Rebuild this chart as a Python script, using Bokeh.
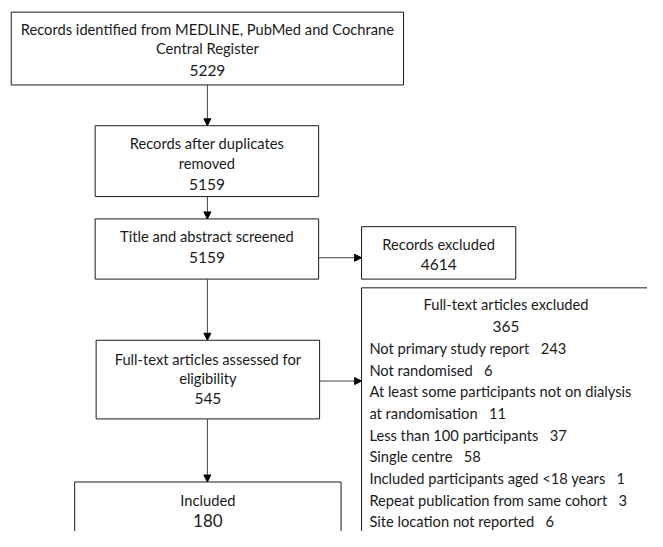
from bokeh.plotting import figure
from bokeh.models import Arrow, NormalHead, ColumnDataSource, Range1d
from bokeh.core.properties import value
from bokeh.embed import file_html
from bokeh.resources import INLINE

# ---------------- data ----------------
stage_titles = [
    ["Records identified from MEDLINE, PubMed and Cochrane", "Central Register"],
    ["Records after duplicates", "removed"],
    ["Title and abstract screened"],
    ["Full-text articles assessed for", "eligibility"],
    ["Included"],
]
stage_counts = [5229, 5159, 5159, 545, 180]

excluded_title = "Records excluded"
excluded_count = 4614

fulltext_excluded_title = "Full-text articles excluded"
fulltext_excluded_count = 365
reason_labels = [
    "Not primary study report",
    "Not randomised",
    "At least some participants not on dialysis|at randomisation",
    "Less than 100 participants",
    "Single centre",
    "Included participants aged <18 years",
    "Repeat publication from same cohort",
    "Site location not reported",
]
reason_counts = [243, 6, 11, 37, 58, 1, 3, 6]

# ---------------- layout (reference pixel coordinates) ----------------
stage_boxes = [(11, 413, 12, 87), (97, 326, 129, 202), (97, 326, 225, 287),
               (98, 327, 350, 431), (76, 349, 496, 570)]
stage_title_y = [[29, 49], [147, 167], [243], [369, 389], [515]]
stage_count_y = [72, 190, 265, 410, 536]
stage_count_size = ["15.5px", "15.5px", "15.5px", "15.5px", "17px"]

excl_box = (370, 528, 233, 287)
excl_title_y, excl_count_y = 251, 272
ft_box = (370, 666, 296, 600)
ft_title_y, ft_count_y = 313, 336
reason_x = 378
reason_y0, reason_dy = 358, 22.3

FONT = value("Lato")
TITLE_SIZE = "14.7px"
GAP = "\u00a0\u00a0\u00a0"

p = figure(width=647, height=531, output_backend="svg", toolbar_location=None,
           x_range=Range1d(0, 663), y_range=Range1d(547, 0), min_border=0)
p.axis.visible = False
p.grid.visible = False
p.outline_line_color = None
p.background_fill_color = "white"

all_boxes = stage_boxes + [excl_box, ft_box]
p.quad(left=[b[0] for b in all_boxes], right=[b[1] for b in all_boxes],
       top=[b[2] for b in all_boxes], bottom=[b[3] for b in all_boxes],
       fill_color="white", line_color="#1a1a1a", line_width=1)

# centered texts
tx, ty, tt, ts = [], [], [], []
for (l, r, t, b), lines, ys, cnt, cy, cs in zip(stage_boxes, stage_titles, stage_title_y,
                                              stage_counts, stage_count_y, stage_count_size):
    cx = (l + r) / 2
    for line, y in zip(lines, ys):
        tx.append(cx); ty.append(y); tt.append(line); ts.append(TITLE_SIZE)
    tx.append(cx); ty.append(cy); tt.append(str(cnt)); ts.append(cs)

ecx = (excl_box[0] + excl_box[1]) / 2
tx += [ecx, ecx]; ty += [excl_title_y, excl_count_y]
tt += [excluded_title, str(excluded_count)]; ts += [TITLE_SIZE, "15.5px"]
fcx = (ft_box[0] + ft_box[1]) / 2
tx += [fcx, fcx]; ty += [ft_title_y, ft_count_y]
tt += [fulltext_excluded_title, str(fulltext_excluded_count)]; ts += [TITLE_SIZE, "15.5px"]

src = ColumnDataSource(dict(x=tx, y=ty, text=tt, size=ts))
p.text(x="x", y="y", text="text", text_font_size="size", source=src,
       text_font=FONT, text_align="center", text_baseline="middle", text_color="#1a1a1a")

# reasons list
rx, ry, rt = [], [], []
k = 0
for lab, c in zip(reason_labels, reason_counts):
    parts = lab.split("|")
    for i, part in enumerate(parts):
        s = part + (GAP + str(c) if i == len(parts) - 1 else "")
        rx.append(reason_x); ry.append(reason_y0 + k * reason_dy); rt.append(s)
        k += 1
p.text(x=rx, y=ry, text=rt, text_font=FONT, text_font_size=TITLE_SIZE,
       text_align="left", text_baseline="middle", text_color="#1a1a1a")

# arrows
arrows = [(212, 87, 212, 129), (212, 202, 212, 225), (212, 287, 212, 350),
          (212, 431, 212, 496), (326, 265, 370, 265), (327, 392, 370, 392)]
for x0, y0, x1, y1 in arrows:
    p.add_layout(Arrow(end=NormalHead(size=7, fill_color="black", line_color="black", line_width=1),
                       x_start=x0, y_start=y0, x_end=x1, y_end=y1,
                       line_color="#404040", line_width=1))

open("out.html", "w").write(file_html(p, INLINE))
